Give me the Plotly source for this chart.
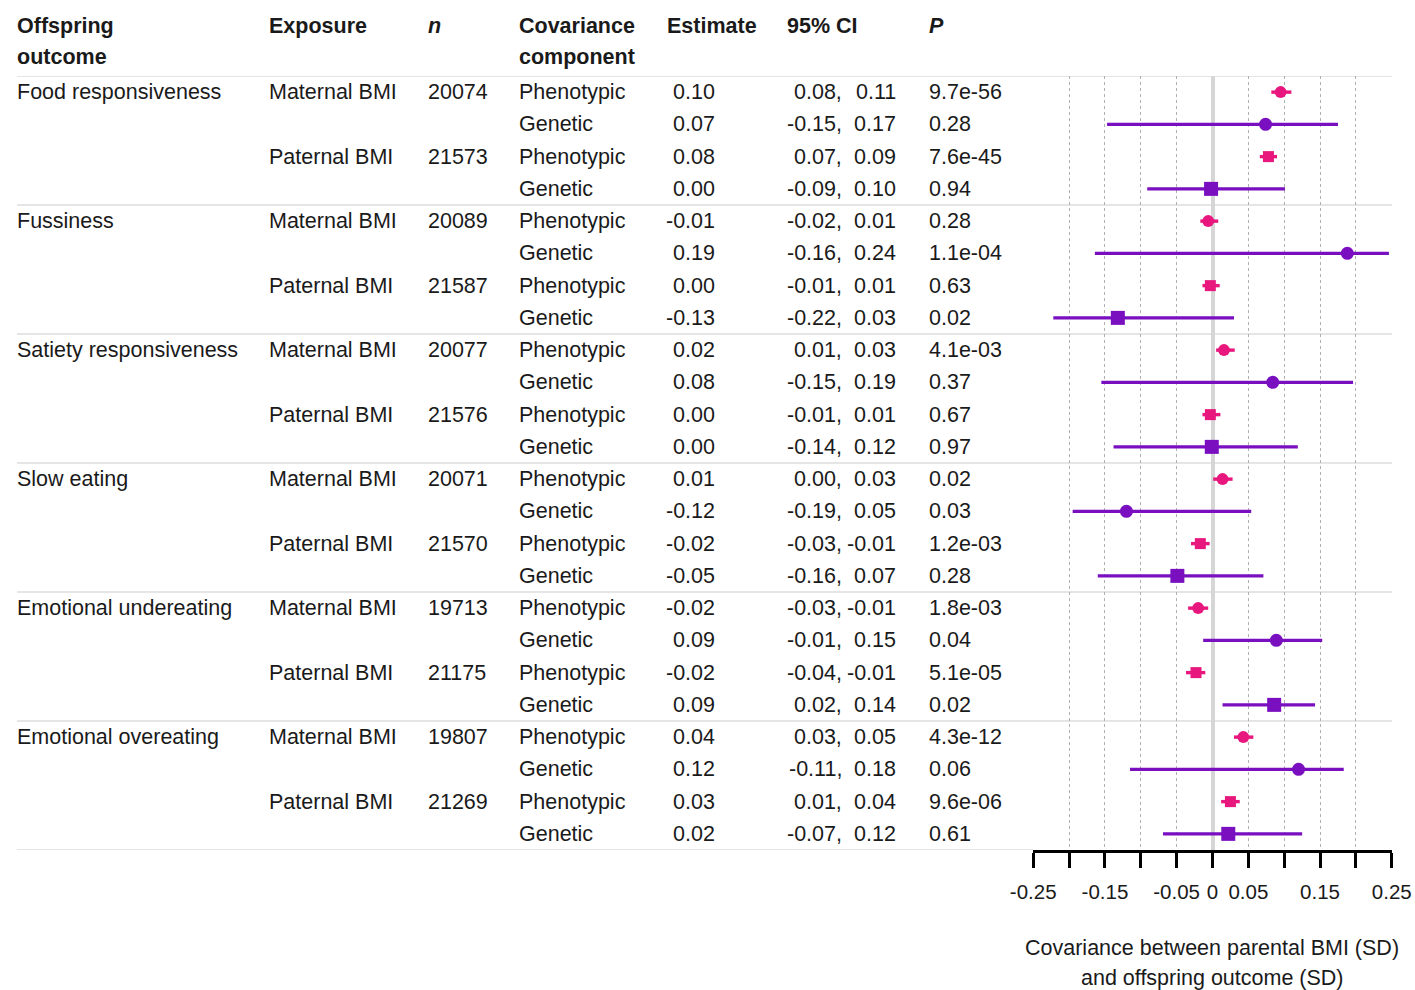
import plotly.graph_objects as go

W, H = 1415, 990
OX, OY = 0, 0      # body margin removed below
PAD = 2            # annotation inner padding

# ---------------- data ----------------
outcomes = ["Food responsiveness", "Fussiness", "Satiety responsiveness",
            "Slow eating", "Emotional undereating", "Emotional overeating"]
exposures = ["Maternal BMI", "Paternal BMI"]
components = ["Phenotypic", "Genetic"]
sample_sizes = [20074, 21573, 20089, 21587, 20077, 21576,
                20071, 21570, 19713, 21175, 19807, 21269]

estimate_labels = ["0.10", "0.07", "0.08", "0.00",
                   "-0.01", "0.19", "0.00", "-0.13",
                   "0.02", "0.08", "0.00", "0.00",
                   "0.01", "-0.12", "-0.02", "-0.05",
                   "-0.02", "0.09", "-0.02", "0.09",
                   "0.04", "0.12", "0.03", "0.02"]
ci_low_labels = ["0.08", "-0.15", "0.07", "-0.09",
                 "-0.02", "-0.16", "-0.01", "-0.22",
                 "0.01", "-0.15", "-0.01", "-0.14",
                 "0.00", "-0.19", "-0.03", "-0.16",
                 "-0.03", "-0.01", "-0.04", "0.02",
                 "0.03", "-0.11", "0.01", "-0.07"]
ci_high_labels = ["0.11", "0.17", "0.09", "0.10",
                  "0.01", "0.24", "0.01", "0.03",
                  "0.03", "0.19", "0.01", "0.12",
                  "0.03", "0.05", "-0.01", "0.07",
                  "-0.01", "0.15", "-0.01", "0.14",
                  "0.05", "0.18", "0.04", "0.12"]
p_labels = ["9.7e-56", "0.28", "7.6e-45", "0.94",
            "0.28", "1.1e-04", "0.63", "0.02",
            "4.1e-03", "0.37", "0.67", "0.97",
            "0.02", "0.03", "1.2e-03", "0.28",
            "1.8e-03", "0.04", "5.1e-05", "0.02",
            "4.3e-12", "0.06", "9.6e-06", "0.61"]

# plotted point estimates and CI bounds
estimates = [0.095, 0.074, 0.078, -0.002,
             -0.006, 0.188, -0.003, -0.132,
             0.016, 0.084, -0.003, -0.001,
             0.014, -0.120, -0.017, -0.049,
             -0.020, 0.089, -0.023, 0.086,
             0.043, 0.120, 0.025, 0.022]
ci_low = [0.082, -0.147, 0.066, -0.091,
          -0.017, -0.164, -0.014, -0.222,
          0.005, -0.155, -0.014, -0.138,
          0.001, -0.195, -0.030, -0.160,
          -0.034, -0.013, -0.037, 0.014,
          0.030, -0.115, 0.012, -0.069]
ci_high = [0.110, 0.175, 0.090, 0.101,
           0.008, 0.246, 0.010, 0.030,
           0.031, 0.196, 0.011, 0.119,
           0.028, 0.054, -0.004, 0.071,
           -0.006, 0.153, -0.010, 0.143,
           0.057, 0.183, 0.038, 0.125]

x_tickvals = [-0.25, -0.20, -0.15, -0.10, -0.05, 0.0, 0.05, 0.10, 0.15, 0.20, 0.25]
x_ticktext = ["-0.25", "", "-0.15", "", "-0.05", "0", "0.05", "", "0.15", "", "0.25"]
x_title = ["Covariance between parental BMI (SD)", "and offspring outcome (SD)"]

# ---------------- styling ----------------
FONT = "Liberation Sans, Arial, sans-serif"
TXT = "#1a1a1a"
FS = 21.5
COLORS = {"Phenotypic": "#E8177E", "Genetic": "#7A0FC0"}


def PX(p):
    return (p - OX) / W


def PY(p):
    return 1 - (p - OY) / H


fig = go.Figure()

# row index: outcome * 4 + exposure * 2 + component
rows = []
for g in range(len(outcomes)):
    for e in range(len(exposures)):
        for c in range(len(components)):
            rows.append((g, e, c))

for c, comp in enumerate(components):
    idx = [i for i, r in enumerate(rows) if r[2] == c]
    xs = [estimates[i] for i in idx]
    plus = [ci_high[i] - estimates[i] for i in idx]
    minus = [estimates[i] - ci_low[i] for i in idx]
    symbols = ["circle" if rows[i][1] == 0 else "square" for i in idx]
    if comp == "Phenotypic":
        sizes = [12 if rows[i][1] == 0 else 11 for i in idx]
    else:
        sizes = [13 if rows[i][1] == 0 else 14 for i in idx]
    fig.add_trace(go.Scatter(
        x=xs, y=idx, mode="markers",
        marker=dict(symbol=symbols, size=sizes, color=COLORS[comp],
                    opacity=1, line=dict(width=0)),
        error_x=dict(type="data", symmetric=False, array=plus, arrayminus=minus,
                     color=COLORS[comp], thickness=3.4, width=0),
        showlegend=False, hoverinfo="skip", cliponaxis=False,
    ))

annotations = []


def ann(text, xpx, y, yref="y", anchor="left", size=FS):
    if anchor == "left":
        xpx -= PAD
    elif anchor == "right":
        xpx += PAD
    annotations.append(dict(
        text=text, x=PX(xpx), xref="paper", y=y, yref=yref,
        xanchor=anchor, yanchor="middle", showarrow=False,
        font=dict(family=FONT, size=size, color=TXT),
    ))


# header
ann("<b>Offspring</b>", 17, PY(26), "paper")
ann("<b>outcome</b>", 17, PY(57), "paper")
ann("<b>Exposure</b>", 269, PY(26), "paper")
ann("<b><i>n</i></b>", 428, PY(26), "paper")
ann("<b>Covariance</b>", 519, PY(26), "paper")
ann("<b>component</b>", 519, PY(57), "paper")
ann("<b>Estimate</b>", 667, PY(26), "paper")
ann("<b>95% CI</b>", 787, PY(26), "paper")
ann("<b><i>P</i></b>", 929, PY(26), "paper")

for i, (g, e, c) in enumerate(rows):
    if e == 0 and c == 0:
        ann(outcomes[g], 17, i)
    if c == 0:
        ann(exposures[e], 269, i)
        ann(str(sample_sizes[g * 2 + e]), 428, i)
    ann(components[c], 519, i)
    ann(estimate_labels[i], 715, i, anchor="right")
    ann(ci_low_labels[i] + ",", 842, i, anchor="right")
    ann(ci_high_labels[i], 896, i, anchor="right")
    ann(p_labels[i], 929, i)

# axis title (two lines)
ann(x_title[0], 1212, PY(948), "paper", anchor="center", size=21.5)
ann(x_title[1], 1212, PY(978), "paper", anchor="center", size=21.5)

# separators
shapes = []
n_rows = len(rows)
for k in range(0, n_rows + 1, 4):
    yv = k - 0.5
    x1 = 1392 if k < n_rows else 1033
    shapes.append(dict(type="line", xref="paper", yref="y",
                       x0=PX(17), x1=PX(x1), y0=yv, y1=yv,
                       line=dict(color="#DCDCDC", width=1.5), layer="below"))

fig.update_layout(
    width=W, height=H,
    margin=dict(l=0, r=0, t=0, b=0),
    paper_bgcolor="white", plot_bgcolor="white",
    font=dict(family=FONT, color=TXT),
    annotations=annotations, shapes=shapes,
    xaxis=dict(
        domain=[PX(1033), PX(1392)], range=[-0.2503, 0.2503],
        tickmode="array", tickvals=x_tickvals, ticktext=x_ticktext,
        ticks="outside", ticklen=15, tickwidth=3, tickcolor="#000000",
        showline=True, linewidth=3, linecolor="#000000",
        showgrid=True, gridcolor="#B0B0B0", griddash="dot", gridwidth=1.3,
        zeroline=True, zerolinecolor="#D6D6D6", zerolinewidth=4,
        tickfont=dict(family=FONT, size=20.5, color=TXT),
        ticklabelstandoff=6, automargin=False, fixedrange=True,
    ),
    yaxis=dict(
        domain=[PY(850), PY(76)], range=[n_rows - 0.5, -0.5],
        visible=False, automargin=False, fixedrange=True,
    ),
)

fig.write_html(
    "out.html",
    config={"displayModeBar": False},
    post_script="document.body.style.margin='0px';document.body.style.overflow='hidden';",
)
